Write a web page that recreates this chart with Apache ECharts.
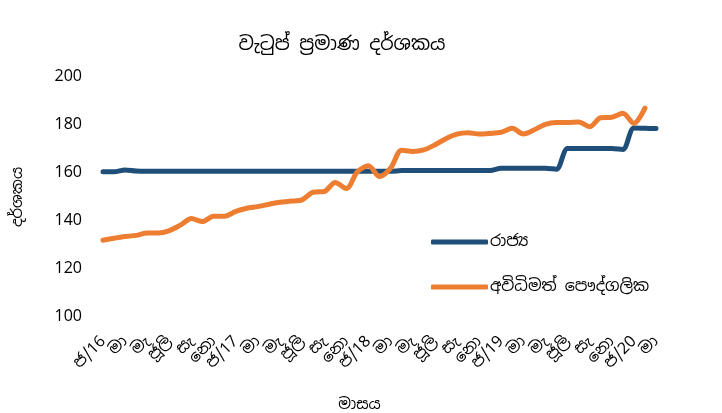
<!DOCTYPE html>
<html>
<head>
<meta charset="utf-8">
<script src="https://cdn.jsdelivr.net/npm/echarts@6/dist/echarts.min.js"></script>
<style>html,body{margin:0;padding:0;background:#fff}#c{width:722px;height:413px}</style>
</head>
<body>
<div id="c"></div>
<script>
var months = [
  'ජ/16','පෙ','මා','අ','මැ','ජූ','ජූලි','අ','සැ','ඔ','නො','දෙ',
  'ජ/17','පෙ','මා','අ','මැ','ජූ','ජූලි','අ','සැ','ඔ','නො','දෙ',
  'ජ/18','පෙ','මා','අ','මැ','ජූ','ජූලි','අ','සැ','ඔ','නො','දෙ',
  'ජ/19','පෙ','මා','අ','මැ','ජූ','ජූලි','අ','සැ','ඔ','නො','දෙ',
  'ජ/20','පෙ','මා'
];
var stateSeries = [
  160.5,160.5,161.3,160.8,160.7,160.7,160.7,160.7,160.7,160.7,160.7,160.7,
  160.7,160.7,160.7,160.7,160.7,160.7,160.7,160.7,160.7,160.7,160.7,160.7,
  160.7,160.7,160.7,161,161,161,161,161,161,161,161,161,
  162,162,162,162,162,161.6,170.2,170.2,170.2,170.2,170.2,169.8,
  178.7,178.6,178.5
];
var informalPrivate = [
  132,132.8,133.5,134,135,135,136,138.3,141,139.8,142,142,
  144,145.3,146,147,147.8,148.3,148.8,152,152.3,156,153.5,160.5,
  163,158.5,162,169.5,169,169.6,171.7,174.3,176.2,176.8,176.2,176.5,
  177,178.6,176.3,178,180.3,181,181,181.3,179.3,183,183.2,184.9,
  180.7,187,null
];
var seriesNames = ['රාජ්‍ය','අවිධිමත් පෞද්ගලික'];
var FONT = '"Noto Sans Sinhala","Noto Sans","Noto Sans CJK SC",sans-serif';
var chart = echarts.init(document.getElementById('c'), null, {renderer:'canvas'});
chart.setOption({
  animation:false,
  textStyle:{fontFamily:FONT},
  title:{text:'වැටුප් ප්‍රමාණ දර්ශකය',left:337,textAlign:'center',top:30,
    textStyle:{fontFamily:FONT,fontSize:19,fontWeight:'normal',color:'#000'}},
  legend:{orient:'vertical',left:426,top:229,itemGap:29,itemWidth:57,itemHeight:5,
    icon:'roundRect',
    textStyle:{fontFamily:FONT,fontSize:16,color:'#000',padding:[0,0,0,-3]},
    data:seriesNames},
  grid:{left:103,right:66,top:77,bottom:96,containLabel:false,outerBoundsMode:'none'},
  xAxis:{type:'category',data:months,boundaryGap:false,
    name:'මාසය',nameLocation:'middle',nameGap:80,
    nameTextStyle:{fontFamily:FONT,fontSize:15,color:'#000',padding:[0,40,0,0]},
    axisLine:{show:false},axisTick:{show:false},
    axisLabel:{interval:0,rotate:45,verticalAlign:'middle',lineHeight:12,
      formatter:function(v,i){return i%2===0?v:'';},
      showMinLabel:true,showMaxLabel:true,hideOverlap:false,
      fontFamily:FONT,fontSize:16,color:'#000',margin:22,padding:[16,0,0,0]}},
  yAxis:{type:'value',min:100,max:200,interval:20,
    name:'දර්ශකය',nameLocation:'middle',nameGap:78,nameRotate:90,
    nameTextStyle:{fontFamily:FONT,fontSize:15,color:'#000'},
    splitLine:{show:false},axisLine:{show:false},axisTick:{show:false},
    axisLabel:{fontFamily:FONT,fontSize:16,color:'#000',margin:21}},
  series:[
    {name:seriesNames[0],type:'line',data:stateSeries,smooth:0.3,symbol:'none',
      lineStyle:{width:5,color:'#1f4e79',cap:'round'},itemStyle:{color:'#1f4e79'}},
    {name:seriesNames[1],type:'line',data:informalPrivate,smooth:0.3,symbol:'none',
      lineStyle:{width:5,color:'#ed7d31',cap:'round'},itemStyle:{color:'#ed7d31'}}
  ]
});
</script>
</body>
</html>
